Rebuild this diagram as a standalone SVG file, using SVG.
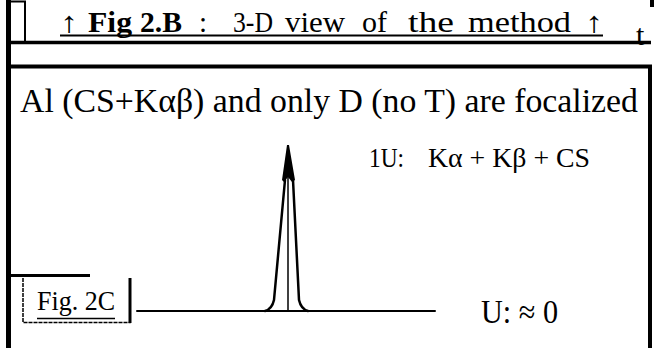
<svg xmlns="http://www.w3.org/2000/svg" width="660" height="348" viewBox="0 0 660 348">
<style>
text{font-family:'Liberation Serif','Times New Roman','DejaVu Serif',serif;fill:#000}
.frame{stroke:#000;fill:none}
.pk{stroke:#000;fill:none;stroke-linecap:round;stroke-linejoin:round}
.sg{font-size:29px}
</style>
<rect width="660" height="348" fill="#fff"/>
<g id="frame">
<line class="frame" x1="8.5" y1="0" x2="8.5" y2="348" stroke-width="5"/>
<polyline class="frame" points="11,1.5 25,1.5 25,42" stroke-width="2"/>
<line class="frame" x1="8" y1="42.5" x2="651" y2="42.5" stroke-width="3.5"/>
<polyline class="frame" points="8,66.5 650,66.5 650,348" stroke-width="4"/>
<rect x="650" y="0" width="4" height="7" fill="#000"/>
<line class="frame" x1="11" y1="275.5" x2="90" y2="275.5" stroke-width="3"/>
</g>
<g id="header">
<text class="sg" x="60" y="32" font-size="32" textLength="18" lengthAdjust="spacingAndGlyphs">↑</text>
<text class="sg" x="88" y="32" font-weight="bold" textLength="44" lengthAdjust="spacingAndGlyphs">Fig</text>
<text class="sg" x="140" y="32" font-weight="bold" textLength="42" lengthAdjust="spacingAndGlyphs">2.B</text>
<text class="sg" x="199" y="32">:</text>
<text class="sg" x="233" y="32" textLength="40" lengthAdjust="spacingAndGlyphs">3-D</text>
<text class="sg" x="285" y="32" textLength="60" lengthAdjust="spacingAndGlyphs">view</text>
<text class="sg" x="362" y="32" textLength="25" lengthAdjust="spacingAndGlyphs">of</text>
<text class="sg" x="408" y="32" textLength="46" lengthAdjust="spacingAndGlyphs">the</text>
<text class="sg" x="468" y="32" textLength="103" lengthAdjust="spacingAndGlyphs">method</text>
<text class="sg" x="585" y="32" font-size="32" textLength="18" lengthAdjust="spacingAndGlyphs">↑</text>
<line class="frame" x1="60" y1="35.5" x2="603" y2="35.5" stroke-width="2"/>
<text x="636" y="45" font-size="30">t</text>
</g>
<g id="title">
<text x="20" y="112" font-size="34" textLength="618" lengthAdjust="spacingAndGlyphs">Al  (CS+Kαβ) and only D (no T) are focalized</text>
</g>
<g id="connectors">
<line class="pk" x1="137" y1="311" x2="435" y2="311" stroke-width="2"/>
<path class="pk" d="M265 311 Q272 309 274 300 L285 180" stroke-width="2.5"/>
<path class="pk" d="M293 180 L299 300 Q301 309 308 311" stroke-width="2.5"/>
<line class="pk" x1="288" y1="146" x2="288" y2="311" stroke-width="1.5"/>
<polygon points="287,145 289,145 295,180 292,182 288,177 284,182 282,180" fill="#000"/>
</g>
<g id="label-peak">
<text x="369" y="167" font-size="27" textLength="35" lengthAdjust="spacingAndGlyphs">1U:</text>
<text x="428" y="167" font-size="27" textLength="162" lengthAdjust="spacingAndGlyphs">Kα + Kβ + CS</text>
</g>
<g id="label-zero">
<text x="481" y="323" font-size="33" textLength="77" lengthAdjust="spacingAndGlyphs">U: ≈ 0</text>
</g>
<g id="fig2c">
<polyline points="23,278 23,322.5 130,322.5 130,278" fill="none" stroke="#000" stroke-width="1.5" stroke-dasharray="4 1"/>
<line x1="130" y1="278" x2="130" y2="323" stroke="#000" stroke-width="3"/>
<text x="37" y="310" font-size="27" textLength="78" lengthAdjust="spacingAndGlyphs">Fig. 2C</text>
<line x1="37" y1="318.5" x2="115" y2="318.5" stroke="#000" stroke-width="1.5"/>
</g>
</svg>
